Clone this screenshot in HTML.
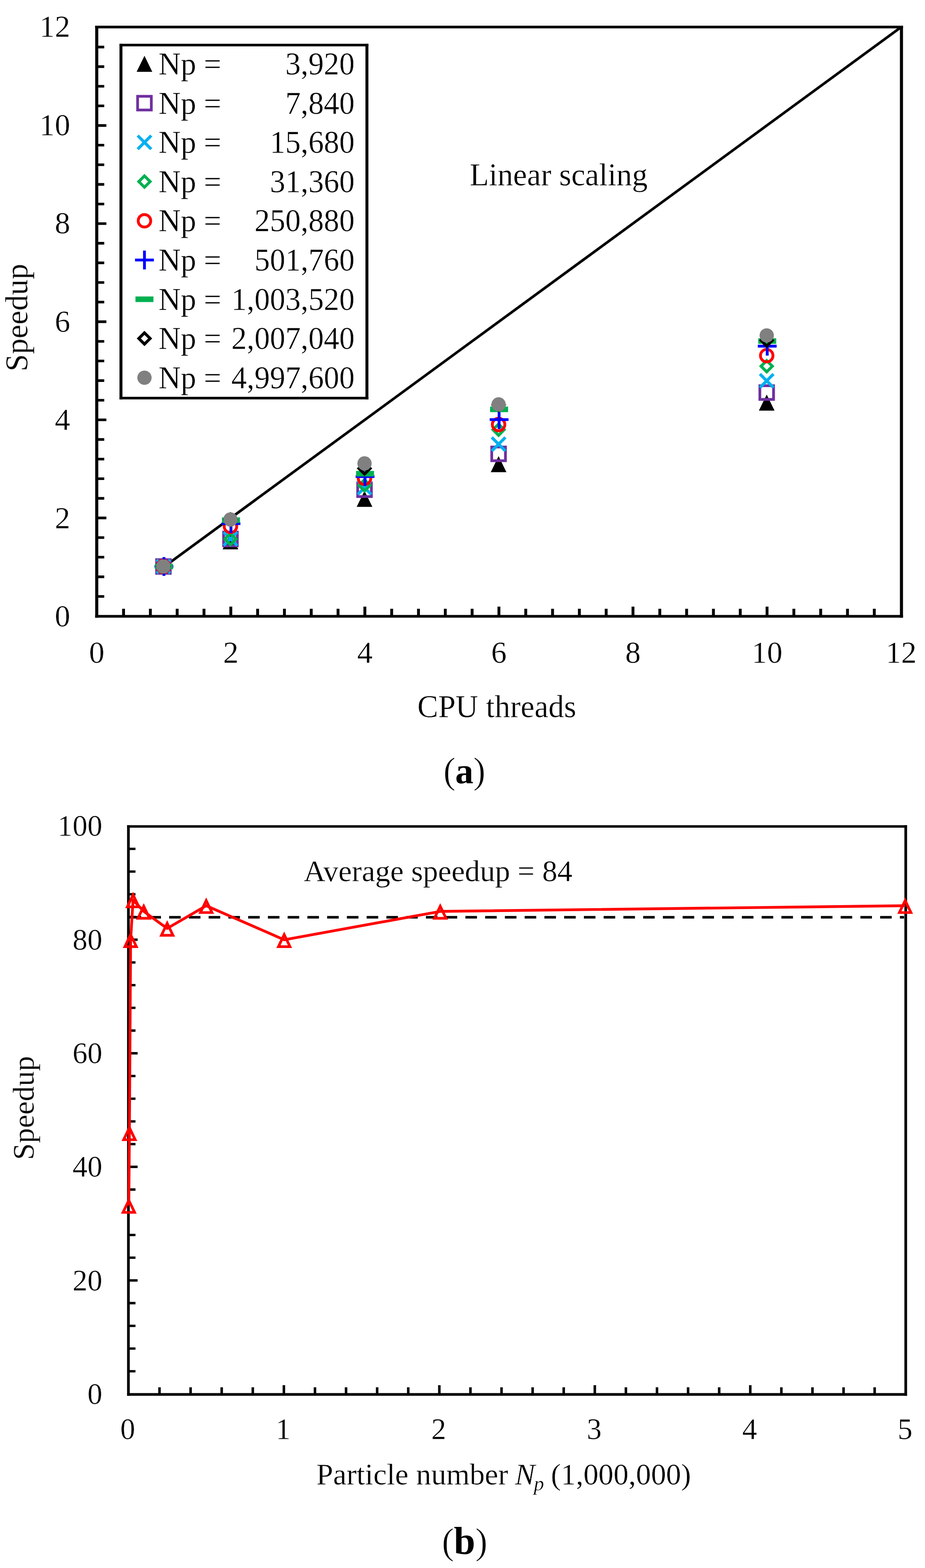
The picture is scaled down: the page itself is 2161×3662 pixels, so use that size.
<!DOCTYPE html>
<html lang="en"><head><meta charset="utf-8"><title>Speedup charts</title>
<style>
html,body{margin:0;padding:0;background:#fff;}
body{width:2161px;height:3662px;}
svg{display:block;}
text{font-family:"Liberation Serif", "DejaVu Serif", serif;fill:#000;stroke:#fff;stroke-width:0.5px;paint-order:fill stroke;}
.cap{stroke-width:1.1px;}
.cap tspan[font-weight]{stroke:none;}
.a{font-size:72px;}
.b{font-size:69.6px;}
.at{font-size:73px;}
.bt{font-size:70.5px;}
.cap{font-size:86px;}
</style></head><body>
<svg width="2161" height="3662" viewBox="0 0 2161 3662" role="img" aria-label="Speedup charts">
<rect width="2161" height="3662" fill="#fff"/>
<defs><filter id="soft" filterUnits="userSpaceOnUse" x="0" y="0" width="2161" height="3662" color-interpolation-filters="sRGB"><feGaussianBlur stdDeviation="0.75"/></filter></defs>
<g id="chart-a" filter="url(#soft)">
<path d="M226 1392.97h17.5M226 1347.15h17.5M226 1301.32h17.5M226 1255.49h17.5M226 1209.67h22.5M226 1163.84h17.5M226 1118.01h17.5M226 1072.19h17.5M226 1026.36h17.5M226 980.53h22.5M226 934.71h17.5M226 888.88h17.5M226 843.05h17.5M226 797.23h17.5M226 751.4h22.5M226 705.57h17.5M226 659.75h17.5M226 613.92h17.5M226 568.09h17.5M226 522.27h22.5M226 476.44h17.5M226 430.61h17.5M226 384.79h17.5M226 338.96h17.5M226 293.13h22.5M226 247.31h17.5M226 201.48h17.5M226 155.65h17.5M226 109.83h17.5" fill="none" stroke="#000" stroke-width="6.1"/>
<path d="M288.64 1439.8v-18M351.28 1439.8v-18M413.92 1439.8v-18M476.56 1439.8v-18M539.2 1439.8v-23M601.84 1439.8v-18M664.48 1439.8v-18M727.12 1439.8v-18M789.76 1439.8v-18M852.4 1439.8v-23M915.04 1439.8v-18M977.68 1439.8v-18M1040.32 1439.8v-18M1102.96 1439.8v-18M1165.6 1439.8v-23M1228.24 1439.8v-18M1290.88 1439.8v-18M1353.52 1439.8v-18M1416.16 1439.8v-18M1478.8 1439.8v-23M1541.44 1439.8v-18M1604.08 1439.8v-18M1666.72 1439.8v-18M1729.36 1439.8v-18M1792 1439.8v-23M1854.64 1439.8v-18M1917.28 1439.8v-18M1979.92 1439.8v-18M2042.56 1439.8v-18" fill="none" stroke="#000" stroke-width="6.7"/>
<path d="M222.4 63.1H2109.6M222.4 1439.4H2109.6" fill="none" stroke="#000" stroke-width="6.1"/>
<path d="M226 60.05V1442.45M2106 60.05V1442.45" fill="none" stroke="#000" stroke-width="7.2"/>
<path d="M382.6 1324.23L2106 62.8" fill="none" stroke="#000" stroke-width="6.1"/>
<text class="a" x="164" y="1463.3" text-anchor="end">0</text>
<text class="a" x="164" y="1233.8" text-anchor="end">2</text>
<text class="a" x="164" y="1004.3" text-anchor="end">4</text>
<text class="a" x="164" y="774.8" text-anchor="end">6</text>
<text class="a" x="164" y="545.3" text-anchor="end">8</text>
<text class="a" x="164" y="315.8" text-anchor="end">10</text>
<text class="a" x="164" y="86.3" text-anchor="end">12</text>
<text class="a" x="226" y="1548" text-anchor="middle">0</text>
<text class="a" x="539.2" y="1548" text-anchor="middle">2</text>
<text class="a" x="852.4" y="1548" text-anchor="middle">4</text>
<text class="a" x="1165.6" y="1548" text-anchor="middle">6</text>
<text class="a" x="1478.8" y="1548" text-anchor="middle">8</text>
<text class="a" x="1792" y="1548" text-anchor="middle">10</text>
<text class="a" x="2105.2" y="1548" text-anchor="middle">12</text>
<text class="at" transform="translate(64 867.5) rotate(-90)">Speedup</text>
<text class="at" x="975" y="1674.5">CPU threads</text>
<text class="at" x="1097.5" y="432.5">Linear scaling</text>
<path d="M381.8 1304L400.1 1341.5L363.5 1341.5Z" fill="#000"/>
<path d="M538.4 1245.6L556.7 1283.1L520.1 1283.1Z" fill="#000"/>
<path d="M851.6 1146.2L869.9 1183.7L833.3 1183.7Z" fill="#000"/>
<path d="M1164.8 1065.3L1183.1 1102.8L1146.5 1102.8Z" fill="#000"/>
<path d="M1791.2 921.5L1809.5 959L1772.9 959Z" fill="#000"/>
<rect x="365.8" y="1307" width="32" height="32" fill="none" stroke="#7030a0" stroke-width="6.4"/>
<rect x="522.4" y="1242.7" width="32" height="32" fill="none" stroke="#7030a0" stroke-width="6.4"/>
<rect x="835.6" y="1127.7" width="32" height="32" fill="none" stroke="#7030a0" stroke-width="6.4"/>
<rect x="1148.8" y="1044" width="32" height="32" fill="none" stroke="#7030a0" stroke-width="6.4"/>
<rect x="1775.2" y="900.8" width="32" height="32" fill="none" stroke="#7030a0" stroke-width="6.4"/>
<path d="M368.4 1309.6L395.2 1336.4M368.4 1336.4L395.2 1309.6" fill="none" stroke="#00b0f0" stroke-width="7" stroke-linecap="square"/>
<path d="M525 1245.1L551.8 1271.9M525 1271.9L551.8 1245.1" fill="none" stroke="#00b0f0" stroke-width="7" stroke-linecap="square"/>
<path d="M838.2 1125.6L865 1152.4M838.2 1152.4L865 1125.6" fill="none" stroke="#00b0f0" stroke-width="7" stroke-linecap="square"/>
<path d="M1151.4 1023.9L1178.2 1050.7M1151.4 1050.7L1178.2 1023.9" fill="none" stroke="#00b0f0" stroke-width="7" stroke-linecap="square"/>
<path d="M1777.8 876L1804.6 902.8M1777.8 902.8L1804.6 876" fill="none" stroke="#00b0f0" stroke-width="7" stroke-linecap="square"/>
<path d="M381.8 1309.8L395 1323L381.8 1336.2L368.6 1323Z" fill="none" stroke="#00b050" stroke-width="6.8" stroke-linejoin="miter"/>
<path d="M538.4 1245.8L551.6 1259L538.4 1272.2L525.2 1259Z" fill="none" stroke="#00b050" stroke-width="6.8" stroke-linejoin="miter"/>
<path d="M851.6 1120.3L864.8 1133.5L851.6 1146.7L838.4 1133.5Z" fill="none" stroke="#00b050" stroke-width="6.8" stroke-linejoin="miter"/>
<path d="M1164.8 990.3L1178 1003.5L1164.8 1016.7L1151.6 1003.5Z" fill="none" stroke="#00b050" stroke-width="6.8" stroke-linejoin="miter"/>
<path d="M1791.2 842.1L1804.4 855.3L1791.2 868.5L1778 855.3Z" fill="none" stroke="#00b050" stroke-width="6.8" stroke-linejoin="miter"/>
<circle cx="381.8" cy="1323" r="14.6" fill="none" stroke="#ff0000" stroke-width="6.6"/>
<circle cx="538.4" cy="1229.3" r="14.6" fill="none" stroke="#ff0000" stroke-width="6.6"/>
<circle cx="851.6" cy="1117" r="14.6" fill="none" stroke="#ff0000" stroke-width="6.6"/>
<circle cx="1164.8" cy="991.5" r="14.6" fill="none" stroke="#ff0000" stroke-width="6.6"/>
<circle cx="1791.2" cy="830.6" r="14.6" fill="none" stroke="#ff0000" stroke-width="6.6"/>
<path d="M361 1323L405 1323M383 1301L383 1345" fill="none" stroke="#0000ff" stroke-width="6.6"/>
<path d="M517.6 1223L561.6 1223M539.6 1201L539.6 1245" fill="none" stroke="#0000ff" stroke-width="6.6"/>
<path d="M830.8 1113L874.8 1113M852.8 1091L852.8 1135" fill="none" stroke="#0000ff" stroke-width="6.6"/>
<path d="M1144 980L1188 980M1166 958L1166 1002" fill="none" stroke="#0000ff" stroke-width="6.6"/>
<path d="M1770.4 808.4L1814.4 808.4M1792.4 786.4L1792.4 830.4" fill="none" stroke="#0000ff" stroke-width="6.6"/>
<rect x="362" y="1316.5" width="42" height="13" fill="#00b050"/>
<rect x="518.6" y="1208.3" width="42" height="13" fill="#00b050"/>
<rect x="831.8" y="1099.8" width="42" height="13" fill="#00b050"/>
<rect x="1145" y="949.5" width="42" height="13" fill="#00b050"/>
<rect x="1771.4" y="790" width="42" height="13" fill="#00b050"/>
<path d="M381.8 1309.8L395 1323L381.8 1336.2L368.6 1323Z" fill="none" stroke="#000" stroke-width="6.8" stroke-linejoin="miter"/>
<path d="M538.4 1200.3L551.6 1213.5L538.4 1226.7L525.2 1213.5Z" fill="none" stroke="#000" stroke-width="6.8" stroke-linejoin="miter"/>
<path d="M851.6 1080.8L864.8 1094L851.6 1107.2L838.4 1094Z" fill="none" stroke="#000" stroke-width="6.8" stroke-linejoin="miter"/>
<path d="M1164.8 932.3L1178 945.5L1164.8 958.7L1151.6 945.5Z" fill="none" stroke="#000" stroke-width="6.8" stroke-linejoin="miter"/>
<path d="M1791.2 781.8L1804.4 795L1791.2 808.2L1778 795Z" fill="none" stroke="#000" stroke-width="6.8" stroke-linejoin="miter"/>
<circle cx="381.8" cy="1323" r="16.7" fill="#808080"/>
<circle cx="538.4" cy="1213.2" r="16.7" fill="#808080"/>
<circle cx="851.6" cy="1082.3" r="16.7" fill="#808080"/>
<circle cx="1164.8" cy="944.5" r="16.7" fill="#808080"/>
<circle cx="1791.2" cy="783.4" r="16.7" fill="#808080"/>
<rect x="282.8" y="105" width="574.4" height="824.8" fill="#fff"/>
<path d="M279.4 105.2H860.6M279.4 929.8H860.6" fill="none" stroke="#000" stroke-width="6"/>
<path d="M282.6 102.2V932.8M857.2 102.2V932.8" fill="none" stroke="#000" stroke-width="6.9"/>
<path d="M337.5 130.3L355.8 167.8L319.2 167.8Z" fill="#000"/>
<text class="a" transform="translate(0 173.9) scale(1 1.025)"><tspan x="370.3">Np = </tspan><tspan x="828.5" text-anchor="end">3,920</tspan></text>
<rect x="321.5" y="224.9" width="32" height="32" fill="none" stroke="#7030a0" stroke-width="6.4"/>
<text class="a" transform="translate(0 265.5) scale(1 1.025)"><tspan x="370.3">Np = </tspan><tspan x="828.5" text-anchor="end">7,840</tspan></text>
<path d="M324.1 319.1L350.9 345.9M324.1 345.9L350.9 319.1" fill="none" stroke="#00b0f0" stroke-width="7" stroke-linecap="square"/>
<text class="a" transform="translate(0 357.1) scale(1 1.025)"><tspan x="370.3">Np = </tspan><tspan x="828.5" text-anchor="end">15,680</tspan></text>
<path d="M337.5 410.9L350.7 424.1L337.5 437.3L324.3 424.1Z" fill="none" stroke="#00b050" stroke-width="6.8" stroke-linejoin="miter"/>
<text class="a" transform="translate(0 448.7) scale(1 1.025)"><tspan x="370.3">Np = </tspan><tspan x="828.5" text-anchor="end">31,360</tspan></text>
<circle cx="337.5" cy="515.7" r="14.6" fill="none" stroke="#ff0000" stroke-width="6.6"/>
<text class="a" transform="translate(0 540.3) scale(1 1.025)"><tspan x="370.3">Np = </tspan><tspan x="828.5" text-anchor="end">250,880</tspan></text>
<path d="M315.5 607.3L359.5 607.3M337.5 585.3L337.5 629.3" fill="none" stroke="#0000ff" stroke-width="6.6"/>
<text class="a" transform="translate(0 631.9) scale(1 1.025)"><tspan x="370.3">Np = </tspan><tspan x="828.5" text-anchor="end">501,760</tspan></text>
<rect x="316.5" y="692.4" width="42" height="13" fill="#00b050"/>
<text class="a" transform="translate(0 723.5) scale(1 1.025)"><tspan x="370.3">Np = </tspan><tspan x="828.5" text-anchor="end">1,003,520</tspan></text>
<path d="M337.5 777.3L350.7 790.5L337.5 803.7L324.3 790.5Z" fill="none" stroke="#000" stroke-width="6.8" stroke-linejoin="miter"/>
<text class="a" transform="translate(0 815.1) scale(1 1.025)"><tspan x="370.3">Np = </tspan><tspan x="828.5" text-anchor="end">2,007,040</tspan></text>
<circle cx="337.5" cy="882.1" r="16.7" fill="#808080"/>
<text class="a" transform="translate(0 906.7) scale(1 1.025)"><tspan x="370.3">Np = </tspan><tspan x="828.5" text-anchor="end">4,997,600</tspan></text>
</g>
<text class="cap" y="1828.6"><tspan x="1035.8">(</tspan><tspan x="1063.6" font-weight="bold" font-size="85">a</tspan><tspan x="1105.4">)</tspan></text>
<g id="chart-b" filter="url(#soft)">
<path d="M300 3202.55h16.5M300 3149.5h16.5M300 3096.46h16.5M300 3043.41h16.5M300 2990.36h21.5M300 2937.31h16.5M300 2884.26h16.5M300 2831.22h16.5M300 2778.17h16.5M300 2725.12h21.5M300 2672.07h16.5M300 2619.02h16.5M300 2565.98h16.5M300 2512.93h16.5M300 2459.88h21.5M300 2406.83h16.5M300 2353.78h16.5M300 2300.74h16.5M300 2247.69h16.5M300 2194.64h21.5M300 2141.59h16.5M300 2088.54h16.5M300 2035.5h16.5M300 1982.45h16.5" fill="none" stroke="#000" stroke-width="5.6"/>
<path d="M372.64 3256.6v-16.5M445.28 3256.6v-16.5M517.92 3256.6v-16.5M590.56 3256.6v-16.5M663.2 3256.6v-21.5M735.84 3256.6v-16.5M808.48 3256.6v-16.5M881.12 3256.6v-16.5M953.76 3256.6v-16.5M1026.4 3256.6v-21.5M1099.04 3256.6v-16.5M1171.68 3256.6v-16.5M1244.32 3256.6v-16.5M1316.96 3256.6v-16.5M1389.6 3256.6v-21.5M1462.24 3256.6v-16.5M1534.88 3256.6v-16.5M1607.52 3256.6v-16.5M1680.16 3256.6v-16.5M1752.8 3256.6v-21.5M1825.44 3256.6v-16.5M1898.08 3256.6v-16.5M1970.72 3256.6v-16.5M2043.36 3256.6v-16.5" fill="none" stroke="#000" stroke-width="5.9"/>
<path d="M296.9 1930.2H2119.1" fill="none" stroke="#000" stroke-width="5.7"/>
<path d="M296.9 3256.6H2119.1" fill="none" stroke="#000" stroke-width="6.2"/>
<path d="M300 1927.35V3259.7M2116 1927.35V3259.7" fill="none" stroke="#000" stroke-width="6.3"/>
<path d="M302.9 2142.2H2112" fill="none" stroke="#000" stroke-width="6.1" stroke-dasharray="27 19.14"/>
<text class="b" x="239" y="3278.8" text-anchor="end">0</text>
<text class="b" x="239" y="3013.52" text-anchor="end">20</text>
<text class="b" x="239" y="2748.24" text-anchor="end">40</text>
<text class="b" x="239" y="2482.96" text-anchor="end">60</text>
<text class="b" x="239" y="2217.68" text-anchor="end">80</text>
<text class="b" x="239" y="1952.4" text-anchor="end">100</text>
<text class="b" x="298.5" y="3361" text-anchor="middle">0</text>
<text class="b" x="661.7" y="3361" text-anchor="middle">1</text>
<text class="b" x="1024.9" y="3361" text-anchor="middle">2</text>
<text class="b" x="1388.1" y="3361" text-anchor="middle">3</text>
<text class="b" x="1751.3" y="3361" text-anchor="middle">4</text>
<text class="b" x="2114.5" y="3361" text-anchor="middle">5</text>
<text class="bt" transform="translate(78.8 2709) rotate(-90)">Speedup</text>
<text class="bt" x="709.5" y="2057.5">Average speedup = 84</text>
<text class="bt" y="3467"><tspan x="739">Particle number </tspan><tspan x="1203" font-style="italic">N</tspan><tspan x="1247" font-style="italic" font-size="48" dy="14">p</tspan><tspan x="1287" dy="-14" font-size="70.2">(1,000,000)</tspan></text>
<path d="M300.92 2815.5L302.35 2645.75L305.19 2194.84L310.89 2102.01L335.82 2128.53L390.62 2168.32L481.74 2115.27L663.98 2194.84L1028.46 2128.53L2114.63 2115.27" fill="none" stroke="#ff0000" stroke-width="6.4" stroke-linejoin="round"/>
<path d="M300.92 2803.4L314.42 2831.5L287.42 2831.5Z" fill="none" stroke="#ff0000" stroke-width="6.2" stroke-linejoin="miter"/>
<path d="M302.35 2633.65L315.85 2661.75L288.85 2661.75Z" fill="none" stroke="#ff0000" stroke-width="6.2" stroke-linejoin="miter"/>
<path d="M305.19 2182.74L318.69 2210.84L291.69 2210.84Z" fill="none" stroke="#ff0000" stroke-width="6.2" stroke-linejoin="miter"/>
<path d="M310.89 2089.91L324.39 2118.01L297.39 2118.01Z" fill="none" stroke="#ff0000" stroke-width="6.2" stroke-linejoin="miter"/>
<path d="M335.82 2116.43L349.32 2144.53L322.32 2144.53Z" fill="none" stroke="#ff0000" stroke-width="6.2" stroke-linejoin="miter"/>
<path d="M390.62 2156.22L404.12 2184.32L377.12 2184.32Z" fill="none" stroke="#ff0000" stroke-width="6.2" stroke-linejoin="miter"/>
<path d="M481.74 2103.17L495.24 2131.27L468.24 2131.27Z" fill="none" stroke="#ff0000" stroke-width="6.2" stroke-linejoin="miter"/>
<path d="M663.98 2182.74L677.48 2210.84L650.48 2210.84Z" fill="none" stroke="#ff0000" stroke-width="6.2" stroke-linejoin="miter"/>
<path d="M1028.46 2116.43L1041.96 2144.53L1014.96 2144.53Z" fill="none" stroke="#ff0000" stroke-width="6.2" stroke-linejoin="miter"/>
<path d="M2114.63 2103.17L2128.13 2131.27L2101.13 2131.27Z" fill="none" stroke="#ff0000" stroke-width="6.2" stroke-linejoin="miter"/>
</g>
<text class="cap" y="3628.9"><tspan x="1032.2">(</tspan><tspan x="1060.2" font-weight="bold" font-size="90">b</tspan><tspan x="1110.2">)</tspan></text>
</svg>
</body></html>
